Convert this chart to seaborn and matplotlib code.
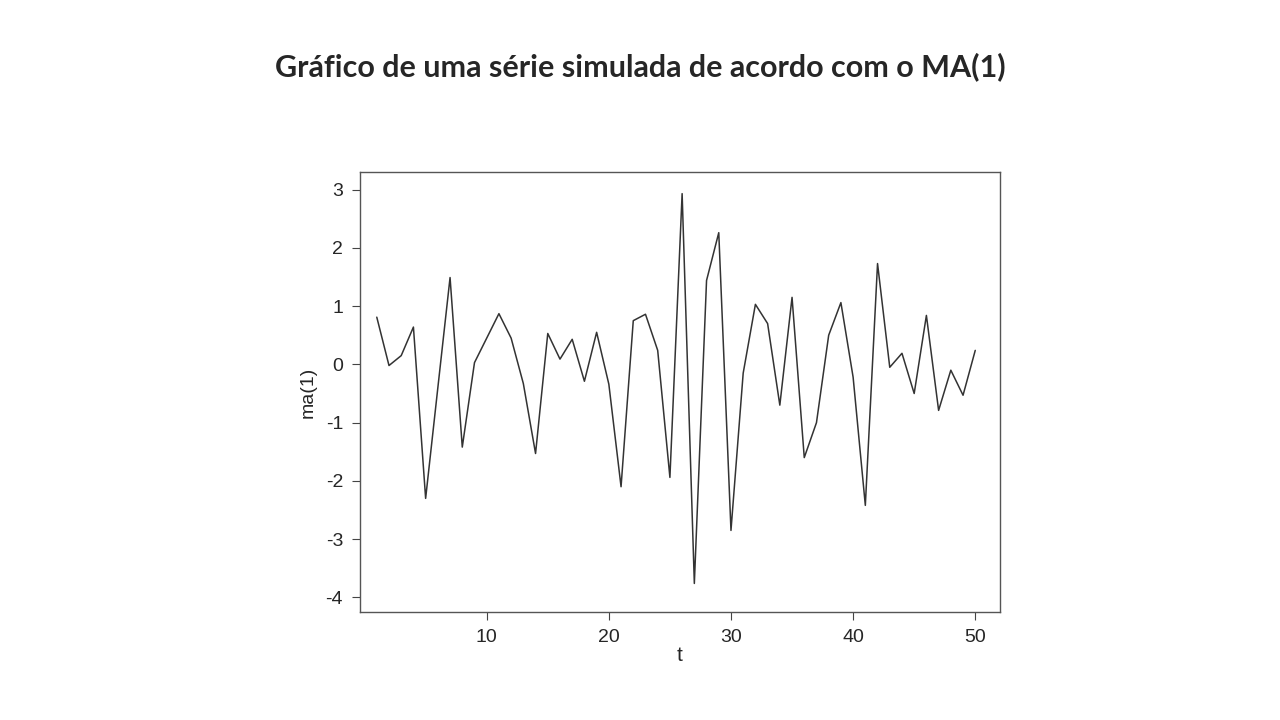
import matplotlib
matplotlib.use("Agg")
import matplotlib.pyplot as plt
import numpy as np
import seaborn as sns
import pandas as pd

t = list(range(1, 51))
ma1 = [0.81, -0.02, 0.15, 0.64, -2.30, -0.40, 1.49, -1.42, 0.03, 0.45,
       0.87, 0.45, -0.33, -1.53, 0.53, 0.09, 0.43, -0.29, 0.55, -0.34,
       -2.10, 0.75, 0.86, 0.24, -1.94, 2.93, -3.76, 1.44, 2.26, -2.85,
       -0.15, 1.03, 0.70, -0.70, 1.15, -1.60, -1.00, 0.50, 1.06, -0.22,
       -2.42, 1.73, -0.05, 0.19, -0.50, 0.84, -0.79, -0.10, -0.53, 0.24]
x_ticks = [10, 20, 30, 40, 50]
y_ticks = [3, 2, 1, 0, -1, -2, -3, -4]

sns.set_style("white")
plt.rcParams['font.family'] = ['Liberation Sans', 'DejaVu Sans']
plt.rcParams['axes.unicode_minus'] = False

df = pd.DataFrame({'t': t, 'ma1': ma1})

fig = plt.figure(figsize=(12.8, 7.2), dpi=100)
ax = fig.add_axes([0.281, 0.15, 0.5, 0.611])
sns.lineplot(data=df, x='t', y='ma1', color='#333333', linewidth=1.1, ax=ax)

ax.set_xlim(-0.4, 52)
ax.set_ylim(-4.25, 3.3)
ax.set_xticks(x_ticks)
ax.set_yticks(y_ticks)
ax.tick_params(axis='both', labelsize=14, length=6, color='#444444', direction='out', pad=6)
ax.tick_params(axis='both', which='major', bottom=True, left=True)
ax.set_xlabel('t', fontsize=15, labelpad=0)
ax.set_ylabel('ma(1)', fontsize=14, labelpad=6)
for s in ax.spines.values():
    s.set_color('#555555')
    s.set_linewidth(1)

fig.text(0.5, 0.907, 'Gráfico de uma série simulada de acordo com o MA(1)',
         ha='center', va='center', fontsize=22, fontweight='bold', family=['Lato', 'DejaVu Sans'])

fig.savefig('out.png', dpi=100)
